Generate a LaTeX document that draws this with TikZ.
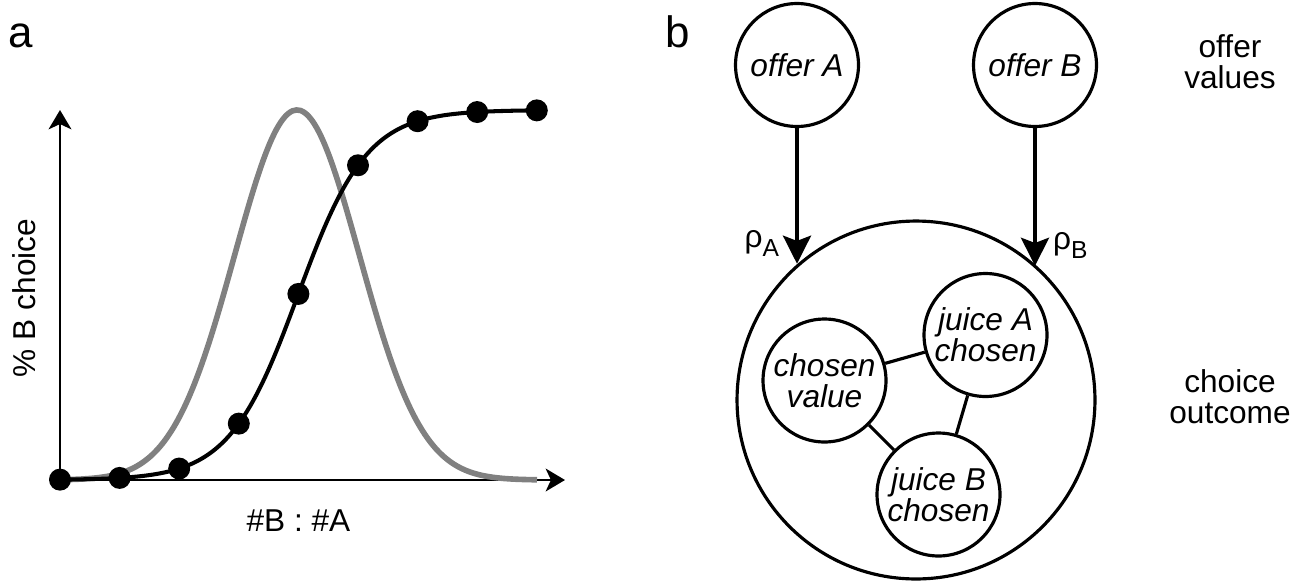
\documentclass[tikz,border=0pt]{standalone}
\usepackage{fontspec}
\setmainfont{Liberation Sans}
\usetikzlibrary{arrows.meta}

\definecolor{curvegray}{RGB}{128,128,128}

\tikzset{
  state/.style={circle, draw, line width=1.8pt, inner sep=0pt, minimum size=2.46cm,
    align=center, font=\fontsize{18}{17.5}\selectfont\itshape},
  link/.style={line width=1.8pt},
  feed/.style={-{Stealth[length=16pt, width=16pt, inset=3pt]}, line width=1.9pt},
  axis/.style={-{Stealth[length=11pt, width=13pt, inset=3pt]}, line width=1.3pt},
  dot/.style={circle, fill=black, inner sep=0pt, minimum size=0.44cm},
  lbl/.style={font=\fontsize{18}{17.5}\selectfont, align=center},
  panel/.style={font=\fontsize{25}{25}\selectfont, anchor=base}
}

\begin{document}
\begin{tikzpicture}[x=0.02cm, y=-0.02cm]
  \useasboundingbox (0,0) rectangle (1308,582);

  %% Panel a
  \node[panel] (pa) at (21,47) {a};

  %% Axes
  \coordinate (org) at (60,480);
  \coordinate (ytop) at (60,110);
  \coordinate (xend) at (565,480);
  \draw[axis] (org) -- (ytop);
  \draw[axis] (org) -- (xend);
  \node[lbl, rotate=90] (ylab) at (24,298) {\% B choice};
  \node[lbl] (xlab) at (298.5,521) {\#B : \#A};

  %% Gaussian (gray)
  \draw[curvegray, line width=3.2pt]
    plot[domain=60:537, samples=120, smooth] (\x, {480-370*exp(-0.5*((\x-297)/62.5)^2)});

  %% Choice curve
  \draw[black, line width=2.3pt]
    plot[domain=60:537, samples=120, smooth] (\x, {480-370/(1+exp(-(\x-298)/34.5))});
  \foreach \i in {1,...,9} {
    \pgfmathsetmacro{\px}{60+(\i-1)*59.6}
    \node[dot] (d\i) at (\px, {480-370/(1+exp(-(\px-298)/34.5))}) {};
  }

  %% Panel b
  \node[panel] (pb) at (678,47) {b};

  %% Offer values
  \node[state] (offA) at (797,65) {offer A};
  \node[state] (offB) at (1035,65) {offer B};
  \node[lbl] (lvals) at (1230,62) {offer\\values};

  %% Choice outcome
  \node[circle, draw, line width=1.8pt, inner sep=0pt, minimum size=7.16cm] (outcome) at (916,400) {};
  \node[state] (chval) at (824.5,380.5) {chosen\\value};
  \node[state] (jA) at (985.5,335) {juice A\\chosen};
  \node[state] (jB) at (938.5,494.5) {juice B\\chosen};
  \node[lbl] (lout) at (1230,397) {choice\\outcome};

  \draw[link] (chval) -- (jA);
  \draw[link] (chval) -- (jB);
  \draw[link] (jA) -- (jB);

  %% Inputs
  \draw[feed] (offA) -- (offA |- outcome.131.67)
    node[pos=0.85, anchor=east, xshift=-6pt, lbl] (rhoA) {ρ\raisebox{-5pt}{\fontsize{14}{14}\selectfont A}};
  \draw[feed] (offB) -- (offB |- outcome.48.33)
    node[pos=0.85, anchor=west, xshift=6pt, lbl] (rhoB) {ρ\raisebox{-5pt}{\fontsize{14}{14}\selectfont B}};

\end{tikzpicture}
\end{document}
